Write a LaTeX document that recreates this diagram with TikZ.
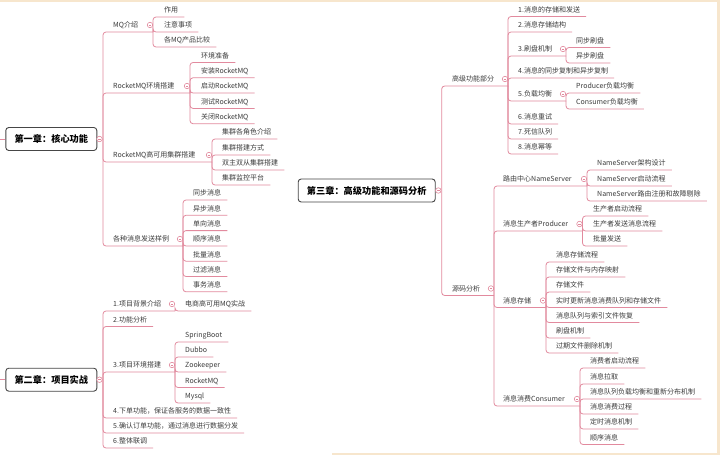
\documentclass[tikz,border=0pt]{standalone}
\usepackage{fontspec}
\setmainfont{Noto Sans CJK SC}
\definecolor{linkc}{RGB}{226,138,158}
\definecolor{txtc}{RGB}{60,60,60}
\definecolor{boxc}{RGB}{70,70,70}
\definecolor{beigec}{RGB}{247,230,205}
\newcommand\mmt[4]{\node[topic] (#1) at (#2,#3) {#4};}
\newcommand\mmp[3]{\coordinate (#1-e) at (#2,#3); \node[knob] (#1-k) at (#2-3,#3-7) {};}
\newcommand\mml[2]{\draw[link] (#1) |- ([xshift=6pt]#2.south east);}
\newcommand\mms[2]{\draw[link] (#1) |- (#2-e);}
\begin{document}
\begin{tikzpicture}[x=1pt,y=-1pt,
  topic/.style={anchor=south west, inner sep=0pt, text depth=4pt, text height=6pt, font=\fontsize{7}{8}\selectfont, text=txtc},
  link/.style={draw=linkc, line width=0.8pt, rounded corners=3pt},
  knob/.style={circle, draw=linkc, fill=white, line width=0.6pt, minimum size=5.5pt, inner sep=0pt,
    path picture={\draw[linkc, line width=0.5pt] ([xshift=-1.4pt]path picture bounding box.center) -- ([xshift=1.4pt]path picture bounding box.center);}},
  chap/.style={draw=boxc, line width=0.9pt, rounded corners=3pt, fill=white, minimum height=23pt, inner sep=0pt, font=\fontsize{9.2}{11}\selectfont\bfseries, text=black},
]
\useasboundingbox (0,0) rectangle (720,455);
\fill[white] (0,0) rectangle (720,455);
\fill[beigec] (0,0) rectangle (720,2);
\fill[beigec] (717,0) rectangle (720,455);
\fill[beigec] (332,452.5) rectangle (720,455);

% ---------- Chapter 1 ----------
\node[chap, minimum width=91pt] (ch1) at (51.3,139) {第一章：核心功能};
\node[knob] (ch1-k) at (99.5,139) {};
\coordinate (ch1-e) at (103,139);
\coordinate (L1) at (0,139);
\draw[link] (L1) -- (ch1.west);

\mmt{mq}{113}{32}{MQ介绍} \mmp{mq}{153}{32} \mms{ch1-e}{mq}
\mmt{mq1}{164}{17}{作用} \mml{mq-e}{mq1}
\mmt{mq2}{164}{32}{注意事项} \mml{mq-e}{mq2}
\mmt{mq3}{164}{47}{各MQ产品比较} \mml{mq-e}{mq3}

\mmt{env}{113}{93}{RocketMQ环境搭建} \mmp{env}{190}{93} \mms{ch1-e}{env}
\mmt{env1}{201}{62.5}{环境准备} \mml{env-e}{env1}
\mmt{env2}{201}{77.8}{安装RocketMQ} \mml{env-e}{env2}
\mmt{env3}{201}{93}{启动RocketMQ} \mml{env-e}{env3}
\mmt{env4}{201}{108.4}{测试RocketMQ} \mml{env-e}{env4}
\mmt{env5}{201}{123.7}{关闭RocketMQ} \mml{env-e}{env5}

\mmt{ha}{113}{162}{RocketMQ高可用集群搭建} \mmp{ha}{212}{162} \mms{ch1-e}{ha}
\mmt{ha1}{222}{139}{集群各角色介绍} \mml{ha-e}{ha1}
\mmt{ha2}{222}{155}{集群搭建方式} \mml{ha-e}{ha2}
\mmt{ha3}{222}{170}{双主双从集群搭建} \mml{ha-e}{ha3}
\mmt{ha4}{222}{185}{集群监控平台} \mml{ha-e}{ha4}

\mmt{sd}{113}{246}{各种消息发送样例} \mmp{sd}{183}{246} \mms{ch1-e}{sd}
\mmt{sd1}{193}{200}{同步消息} \mml{sd-e}{sd1}
\mmt{sd2}{193}{215.3}{异步消息} \mml{sd-e}{sd2}
\mmt{sd3}{193}{230.6}{单向消息} \mml{sd-e}{sd3}
\mmt{sd4}{193}{246}{顺序消息} \mml{sd-e}{sd4}
\mmt{sd5}{193}{261.2}{批量消息} \mml{sd-e}{sd5}
\mmt{sd6}{193}{276.5}{过滤消息} \mml{sd-e}{sd6}
\mmt{sd7}{193}{291.8}{事务消息} \mml{sd-e}{sd7}

% ---------- Chapter 2 ----------
\node[chap, minimum width=91pt] (ch2) at (51.3,379.7) {第二章：项目实战};
\node[knob] (ch2-k) at (99.5,379.7) {};
\coordinate (ch2-e) at (103,379.7);
\coordinate (L2) at (0,379.7);
\draw[link] (L2) -- (ch2.west);

\mmt{bg}{113}{311}{1.项目背景介绍} \mmp{bg}{175}{311} \mms{ch2-e}{bg}
\mmt{bg1}{185}{311}{电商高可用MQ实战} \mml{bg-e}{bg1}
\mmt{fa}{113}{326.5}{2.功能分析} \mml{ch2-e}{fa}
\mmt{pe}{113}{372}{3.项目环境搭建} \mmp{pe}{175}{372} \mms{ch2-e}{pe}
\mmt{pe1}{185}{342}{SpringBoot} \mml{pe-e}{pe1}
\mmt{pe2}{185}{357}{Dubbo} \mml{pe-e}{pe2}
\mmt{pe3}{185}{372}{Zookeeper} \mml{pe-e}{pe3}
\mmt{pe4}{185}{387.5}{RocketMQ} \mml{pe-e}{pe4}
\mmt{pe5}{185}{403}{Mysql} \mml{pe-e}{pe5}
\mmt{o4}{113}{418}{4.下单功能，保证各服务的数据一致性} \mml{ch2-e}{o4}
\mmt{o5}{113}{433}{5.确认订单功能，通过消息进行数据分发} \mml{ch2-e}{o5}
\mmt{o6}{113}{448}{6.整体联调} \mml{ch2-e}{o6}

% ---------- Chapter 3 ----------
\node[chap, minimum width=137pt] (ch3) at (366.7,190.5) {第三章：高级功能和源码分析};
\node[knob] (ch3-k) at (438.3,190.5) {};
\coordinate (ch3-e) at (441.7,190.5);

\mmt{adv}{452}{86}{高级功能部分} \mmp{adv}{508}{86} \mms{ch3-e}{adv}
\mmt{a1}{518}{16.5}{1.消息的存储和发送} \mml{adv-e}{a1}
\mmt{a2}{518}{32}{2.消息存储结构} \mml{adv-e}{a2}
\mmt{a3}{518}{56}{3.刷盘机制} \mmp{a3}{566}{56} \mms{adv-e}{a3}
\mmt{a31}{576}{47.5}{同步刷盘} \mml{a3-e}{a31}
\mmt{a32}{576}{63}{异步刷盘} \mml{a3-e}{a32}
\mmt{a4}{518}{78}{4.消息的同步复制和异步复制} \mml{adv-e}{a4}
\mmt{a5}{518}{101}{5.负载均衡} \mmp{a5}{566}{101} \mms{adv-e}{a5}
\mmt{a51}{576}{93}{Producer负载均衡} \mml{a5-e}{a51}
\mmt{a52}{576}{109}{Consumer负载均衡} \mml{a5-e}{a52}
\mmt{a6}{518}{124}{6.消息重试} \mml{adv-e}{a6}
\mmt{a7}{518}{139}{7.死信队列} \mml{adv-e}{a7}
\mmt{a8}{518}{154}{8.消息幂等} \mml{adv-e}{a8}

\mmt{src}{452}{295.5}{源码分析} \mmp{src}{494}{295.5} \mms{ch3-e}{src}

\mmt{ns}{503}{186}{路由中心NameServer} \mmp{ns}{587}{186} \mms{src-e}{ns}
\mmt{ns1}{597}{170}{NameServer架构设计} \mml{ns-e}{ns1}
\mmt{ns2}{597}{186}{NameServer启动流程} \mml{ns-e}{ns2}
\mmt{ns3}{597}{201}{NameServer路由注册和故障剔除} \mml{ns-e}{ns3}

\mmt{pr}{503}{231}{消息生产者Producer} \mmp{pr}{582.5}{231} \mms{src-e}{pr}
\mmt{pr1}{593}{216}{生产者启动流程} \mml{pr-e}{pr1}
\mmt{pr2}{593}{231}{生产者发送消息流程} \mml{pr-e}{pr2}
\mmt{pr3}{593}{246}{批量发送} \mml{pr-e}{pr3}

\mmt{st}{503}{307.5}{消息存储} \mmp{st}{546}{307.5} \mms{src-e}{st}
\mmt{st1}{556}{262}{消息存储流程} \mml{st-e}{st1}
\mmt{st2}{556}{277}{存储文件与内存映射} \mml{st-e}{st2}
\mmt{st3}{556}{292}{存储文件} \mml{st-e}{st3}
\mmt{st4}{556}{307.5}{实时更新消息消费队列和存储文件} \mml{st-e}{st4}
\mmt{st5}{556}{322.5}{消息队列与索引文件恢复} \mml{st-e}{st5}
\mmt{st6}{556}{338}{刷盘机制} \mml{st-e}{st6}
\mmt{st7}{556}{353}{过期文件删除机制} \mml{st-e}{st7}

\mmt{co}{503}{406}{消息消费Consumer} \mmp{co}{580}{406} \mms{src-e}{co}
\mmt{co1}{590}{368}{消费者启动流程} \mml{co-e}{co1}
\mmt{co2}{590}{384}{消息拉取} \mml{co-e}{co2}
\mmt{co3}{590}{399}{消息队列负载均衡和重新分布机制} \mml{co-e}{co3}
\mmt{co4}{590}{414}{消息消费过程} \mml{co-e}{co4}
\mmt{co5}{590}{429}{定时消息机制} \mml{co-e}{co5}
\mmt{co6}{590}{444.5}{顺序消息} \mml{co-e}{co6}
\end{tikzpicture}
\end{document}
